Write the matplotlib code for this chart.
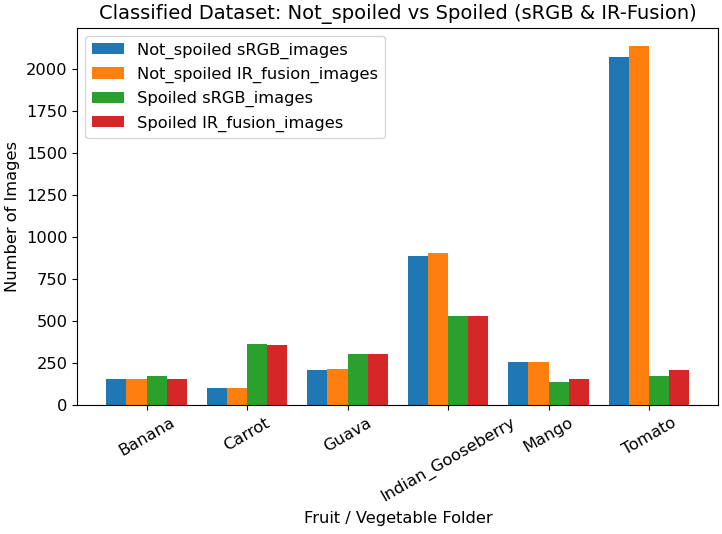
import matplotlib
matplotlib.use("Agg")
import matplotlib.pyplot as plt
import numpy as np

categories = ["Banana", "Carrot", "Guava", "Indian_Gooseberry", "Mango", "Tomato"]
not_spoiled_srgb = [157, 105, 212, 889, 260, 2075]
not_spoiled_ir = [157, 105, 218, 909, 260, 2141]
spoiled_srgb = [177, 365, 308, 532, 139, 177]
spoiled_ir = [157, 357, 308, 532, 155, 211]

series = [
    ("Not_spoiled sRGB_images", not_spoiled_srgb),
    ("Not_spoiled IR_fusion_images", not_spoiled_ir),
    ("Spoiled sRGB_images", spoiled_srgb),
    ("Spoiled IR_fusion_images", spoiled_ir),
]

fs = 11.7
fig, ax = plt.subplots(figsize=(7.22, 5.34), dpi=100)
x = np.arange(len(categories))
w = 0.2
for i, (label, vals) in enumerate(series):
    ax.bar(x + (i - 1.5) * w, vals, w, label=label)

ax.set_xticks(x)
ax.set_xticklabels(categories, rotation=30, fontsize=fs)
ax.tick_params(axis="y", labelsize=fs)
ax.set_xlabel("Fruit / Vegetable Folder", fontsize=fs)
ax.set_ylabel("Number of Images", fontsize=fs)
ax.set_title("Classified Dataset: Not_spoiled vs Spoiled (sRGB & IR-Fusion)", fontsize=14)
ax.legend(loc="upper left", fontsize=fs)

plt.subplots_adjust(left=0.107, right=0.995, top=0.948, bottom=0.241)
fig.savefig("out.png", dpi=100)
